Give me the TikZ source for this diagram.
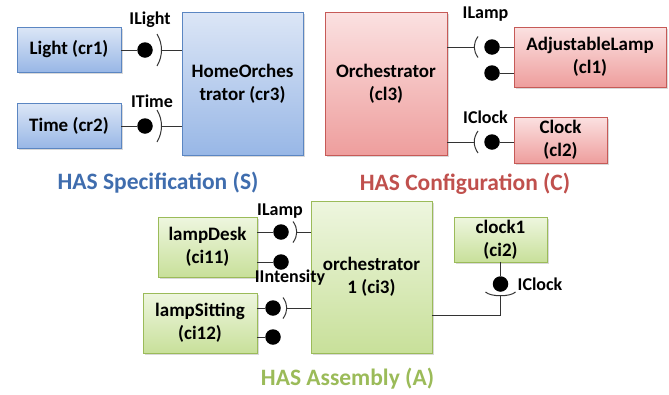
\documentclass[tikz,border=0pt]{standalone}
\usepackage{fontspec}
\setmainfont{Carlito}
\usepackage{tikz}
\usepackage{xcolor}
\usetikzlibrary{calc,shadows}
\definecolor{sline}{HTML}{5B86C2}
\definecolor{stop}{HTML}{DCE6F6}
\definecolor{sbot}{HTML}{98B7E6}
\definecolor{stitle}{HTML}{3F6DAE}
\definecolor{cline}{HTML}{C65A57}
\definecolor{ctop}{HTML}{FBE1E1}
\definecolor{cbot}{HTML}{EE9E9D}
\definecolor{ctitle}{HTML}{C0504D}
\definecolor{aline}{HTML}{9BBB59}
\definecolor{atop}{HTML}{EEF6DF}
\definecolor{abot}{HTML}{C8E09A}
\definecolor{atitle}{HTML}{9BBB59}
\tikzset{
  block/.style={draw, line width=0.9pt, align=center, inner sep=2pt,
    font=\fontsize{19}{23}\selectfont\bfseries,
    drop shadow={shadow xshift=1.5pt, shadow yshift=-1.5pt, opacity=0.3}},
  sblock/.style={block, draw=sline, top color=stop, bottom color=sbot},
  cblock/.style={block, draw=cline, top color=ctop, bottom color=cbot},
  ablock/.style={block, draw=aline, top color=atop, bottom color=abot},
  ball/.style={circle, fill=black, inner sep=0pt, minimum size=15.5},
  wire/.style={line width=1pt, black!80},
  lbl/.style={anchor=base, inner sep=0pt, font=\fontsize{18}{21}\selectfont\bfseries},
  ttl/.style={anchor=base, inner sep=0pt, font=\fontsize{23.5}{27}\selectfont\bfseries}
}

\begin{document}
\begin{tikzpicture}[x=1pt, y=-1pt]
  \useasboundingbox (0,0) rectangle (669,394);
  \node[sblock, minimum width=104, minimum height=45] (cr1) at (69,49.5) {Light (cr1)};
  \node[sblock, minimum width=104, minimum height=45] (cr2) at (69,125.5) {Time (cr2)};
  \node[sblock, minimum width=121, minimum height=143] (cr3) at (242.5,83.5) {HomeOrches\\trator (cr3)};
  \node[ball] (b1) at (145,50) {};
  \node[ball] (b2) at (145,126) {};
  \draw[wire] (cr1.east |- b1) -- (b1);
  \draw[wire] (cr2.east |- b2) -- (b2);
  \draw[wire] ($(b1)+(12,-16)$) .. controls +(6,10) and +(6,-10) .. ($(b1)+(12,16)$);
  \draw[wire] ($(b2)+(12,-16)$) .. controls +(6,10) and +(6,-10) .. ($(b2)+(12,16)$);
  \draw[wire] ($(b1)+(16.5,0)$) -- (b1 -| cr3.west);
  \draw[wire] ($(b2)+(16.5,0)$) -- (b2 -| cr3.west);
  \node[lbl] (ilight) at (150,24) {ILight};
  \node[lbl] (itime) at (152,107) {ITime};
  \node[ttl, text=stitle] (spec) at (158,189) {HAS Specification (S)};

  \node[cblock, minimum width=122, minimum height=143] (cl3) at (386,83.5) {Orchestrator\\(cl3)};
  \node[cblock, minimum width=152, minimum height=60] (cl1) at (590,57) {AdjustableLamp\\(cl1)};
  \node[cblock, minimum width=93, minimum height=46] (cl2) at (560.5,140) {Clock\\(cl2)};
  \node[ball] (c1) at (492,47) {};
  \node[ball] (c2) at (492,73) {};
  \node[ball] (c3) at (492,142) {};
  \draw[wire] (c1) -- (c1 -| cl1.west);
  \draw[wire] (c2) -- (c2 -| cl1.west);
  \draw[wire] (c3) -- (c3 -| cl2.west);
  \draw[wire] ($(c1)+(-14,-10.5)$) .. controls +(-5,7) and +(-5,-7) .. ($(c1)+(-14,10.5)$);
  \draw[wire] ($(c3)+(-14,-11)$) .. controls +(-5,7) and +(-5,-7) .. ($(c3)+(-14,11)$);
  \draw[wire] (cl3.east |- c1) -- ($(c1)+(-17.75,0)$);
  \draw[wire] (cl3.east |- c3) -- ($(c3)+(-17.75,0)$);
  \node[lbl] (ilampc) at (485.5,18) {ILamp};
  \node[lbl] (iclockc) at (485.5,123) {IClock};
  \node[ttl, text=ctitle] (conf) at (465,190) {HAS Configuration (C)};

  \node[ablock, minimum width=99, minimum height=60] (ci11) at (207.5,247) {lampDesk\\(ci11)};
  \node[ablock, minimum width=114, minimum height=60] (ci12) at (200,323) {lampSitting\\(ci12)};
  \node[ablock, minimum width=121, minimum height=152] (ci3) at (371.5,277) {orchestrator\\1 (ci3)};
  \node[ablock, minimum width=93, minimum height=45] (ci2) at (500.5,239.5) {clock1\\(ci2)};
  \node[ball] (a1) at (281,232) {};
  \node[ball] (a2) at (281,262) {};
  \node[ball] (a3) at (273,308) {};
  \node[ball] (a4) at (273,337) {};
  \node[ball] (a5) at (500.5,284) {};
  \draw[wire] (ci11.east |- a1) -- (a1);
  \draw[wire] (ci11.east |- a2) -- (a2);
  \draw[wire] (ci12.east |- a3) -- (a3);
  \draw[wire] (ci12.east |- a4) -- (a4);
  \draw[wire] (ci2.south) -- (a5);
  \draw[wire] ($(a1)+(12,-10.5)$) .. controls +(5,7) and +(5,-7) .. ($(a1)+(12,10.5)$);
  \draw[wire] ($(a3)+(10,-10.5)$) .. controls +(5,7) and +(5,-7) .. ($(a3)+(10,10.5)$);
  \draw[wire] ($(a5)+(-15,8)$) .. controls +(5,5) and +(-5,5) .. ($(a5)+(15,8)$);
  \draw[wire] ($(a1)+(15.75,0)$) -- (a1 -| ci3.west);
  \draw[wire] ($(a3)+(13.75,0)$) -- (a3 -| ci3.west);
  \draw[wire] ($(a5)+(0,11.75)$) |- ($(ci3.east)+(0,38)$);
  \node[lbl] (ilampa) at (280,215) {ILamp};
  \node[lbl] (iintens) at (290,282) {IIntensity};
  \node[lbl] (iclocka) at (540,290) {IClock};
  \node[ttl, text=atitle] (asm) at (347.5,385) {HAS Assembly (A)};
\end{tikzpicture}
\end{document}
